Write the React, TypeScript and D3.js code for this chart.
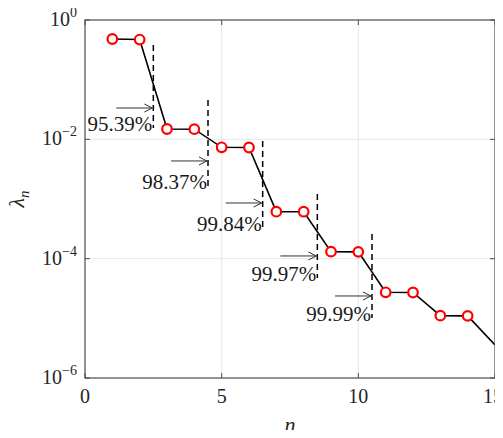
import React from "react";
import * as d3 from "d3";

const modeIndex = [1, 2, 3, 4, 5, 6, 7, 8, 9, 10, 11, 12, 13, 14, 15];
const lambdaValues = [0.48, 0.47, 0.0149, 0.0148, 0.00735, 0.0073, 0.000613, 0.000612, 0.000131, 0.00013, 2.73e-5, 2.71e-5, 1.11e-5, 1.1e-5, 3.57e-6];
const cutPositions = [2.5, 4.5, 6.5, 8.5, 10.5];
const cutLabels = ["95.39%", "98.37%", "99.84%", "99.97%", "99.99%"];
const dashTop = [0.38, 0.0456, 0.00938, 0.00121, 0.000259];
const dashBottom = [0.0155, 0.00165, 0.000327, 4.74e-5, 1.01e-5];
const arrowLevel = [0.0335, 0.00434, 0.000857, 0.000111, 2.37e-5];
const xTicks = [0, 5, 10, 15];
const yTickExponents = [0, -2, -4, -6];

const W = 503, H = 438;
const L = 85, R = 495, T = 20, B = 378;

export default function App() {
  const x = d3.scaleLinear().domain([0, 15]).range([L, R]);
  const y = d3.scaleLog().domain([1e-6, 1]).range([B, T]);
  const pts = modeIndex.map((n, i) => [n, lambdaValues[i]] as [number, number]);
  const line = d3.line<[number, number]>().x(d => x(d[0])).y(d => y(d[1]));
  const gridX = xTicks.filter(t => t > 0 && t < 15);
  const gridY = yTickExponents.filter(e => e < 0 && e > -6);
  const axisColor = "#4d4d4d";
  const arrowLen = 37;
  return (
    <div style={{ margin: -8 }}>
      <svg className="chart" width={W} height={H} style={{ display: "block", background: "#fff" }}>
        <style>{`.chart text, .chart tspan { font-family: "Liberation Serif", "Times New Roman", serif !important; }`}</style>
        <defs>
          <clipPath id="plotClip">
            <rect x={L} y={T} width={R - L} height={B - T} />
          </clipPath>
        </defs>
        {gridX.map(t => (
          <line key={"gx" + t} x1={x(t)} x2={x(t)} y1={T} y2={B} stroke="#e6e6e6" strokeWidth={1} />
        ))}
        {gridY.map(e => (
          <line key={"gy" + e} x1={L} x2={R} y1={y(Math.pow(10, e))} y2={y(Math.pow(10, e))} stroke="#e6e6e6" strokeWidth={1} />
        ))}
        <g clipPath="url(#plotClip)">
          <path d={line(pts) || ""} fill="none" stroke="#000" strokeWidth={1.6} />
        </g>
        {pts.filter(p => p[0] < 15).map(p => (
          <circle key={"m" + p[0]} cx={x(p[0])} cy={y(p[1])} r={4.8} fill="#fff" stroke="#ff0000" strokeWidth={2.2} />
        ))}
        {cutPositions.map((c, i) => {
          const cx = x(c);
          const ay = y(arrowLevel[i]);
          return (
            <g key={"cut" + i}>
              <line x1={cx} x2={cx} y1={y(dashTop[i])} y2={y(dashBottom[i])} stroke="#000" strokeWidth={1.5} strokeDasharray="6,4" />
              <line x1={cx - arrowLen} x2={cx - 1} y1={ay} y2={ay} stroke="#333" strokeWidth={1} />
              <path d={`M${cx - 9},${ay - 4} L${cx - 1},${ay} L${cx - 9},${ay + 4}`} fill="none" stroke="#333" strokeWidth={1} />
              <text x={cx - 1} y={y(dashBottom[i]) + 3} textAnchor="end" fontFamily="Liberation Serif" fontSize={21} fill="#1a1a1a">
                {cutLabels[i]}
              </text>
            </g>
          );
        })}
        <rect x={L} y={T} width={R - L} height={B - T} fill="none" stroke={axisColor} strokeWidth={1.2} />
        {xTicks.map(t => (
          <g key={"xt" + t}>
            <line x1={x(t)} x2={x(t)} y1={B} y2={B - 5} stroke={axisColor} />
            <line x1={x(t)} x2={x(t)} y1={T} y2={T + 5} stroke={axisColor} />
            <text x={t === 15 ? x(t) - 2 : x(t)} y={B + 25} textAnchor="middle" fontFamily="Liberation Serif" fontSize={20} fill="#262626">{String(t)}</text>
          </g>
        ))}
        {yTickExponents.map(e => {
          const yy = y(Math.pow(10, e));
          return (
            <g key={"yt" + e}>
              <line x1={L} x2={L + 5} y1={yy} y2={yy} stroke={axisColor} />
              <line x1={R} x2={R - 5} y1={yy} y2={yy} stroke={axisColor} />
              <text x={77} y={yy + 6} textAnchor="end" fontFamily="Liberation Serif" fill="#262626">
                <tspan fontSize={20}>10</tspan>
                <tspan fontSize={14} dy={-9}>{e === 0 ? "0" : "\u2212" + Math.abs(e)}</tspan>
              </text>
            </g>
          );
        })}
        <text x={(L + R) / 2} y={432} textAnchor="middle" fontFamily="Liberation Serif" fontStyle="italic" fontSize={22} fill="#262626">n</text>
        <text transform={`translate(24,${(T + B) / 2}) rotate(-90)`} textAnchor="middle" fontFamily="Liberation Serif" fontSize={22} fill="#262626">
          <tspan fontStyle="italic">λ</tspan>
          <tspan fontStyle="italic" fontSize={15} dy={5}>n</tspan>
        </text>
      </svg>
    </div>
  );
}
